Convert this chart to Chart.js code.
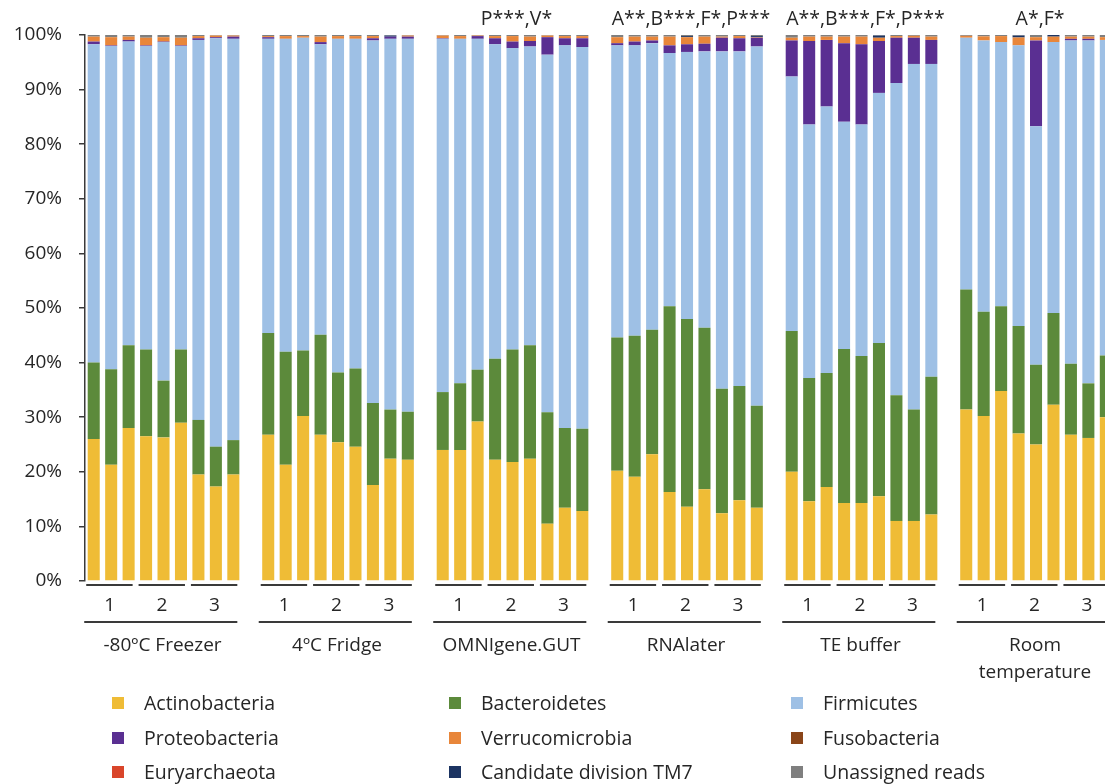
<!DOCTYPE html>
<html>
<head>
<meta charset="utf-8">
<script src="https://cdn.jsdelivr.net/npm/chart.js@4.4.0/dist/chart.umd.min.js"></script>
<style>
html,body{margin:0;padding:0;background:#fff;overflow:hidden;width:1105px;height:784px;}
#wrap{position:relative;width:1105px;height:784px;overflow:hidden;}
#c{position:absolute;left:0;top:0;}
.leg{position:absolute;font-family:"Open Sans",sans-serif;font-size:19.5px;color:#262626;line-height:26px;white-space:nowrap;}
.sw{position:absolute;width:12px;height:12px;}
</style>
</head>
<body>
<div id="wrap">
<canvas id="c" width="1140" height="784"></canvas>
<div id="legend"></div>
</div>
<script>
// ---- categories ----
const groupNames = ["-80ºC Freezer", "4ºC Fridge", "OMNIgene.GUT", "RNAlater", "TE buffer", "Room\ntemperature"];
const subjects = ["1", "2", "3"];
const significance = ["", "", "P***,V*", "A**,B***,F*,P***", "A**,B***,F*,P***", "A*,F*"];
const yTicks = [0, 10, 20, 30, 40, 50, 60, 70, 80, 90, 100];

// ---- series values (% of reads), 9 bars per group: subject 1,2,3 x 3 replicates ----
const actinobacteria = [
  26.0,21.3,28.0, 26.5,26.3,29.0, 19.5,17.3,19.5,
  26.8,21.3,30.2, 26.8,25.4,24.6, 17.6,22.4,22.2,
  24.0,24.0,29.2, 22.2,21.8,22.4, 10.5,13.4,12.8,
  20.2,19.1,23.2, 16.3,13.6,16.8, 12.4,14.8,13.4,
  20.0,14.6,17.2, 14.3,14.3,15.5, 11.0,11.0,12.2,
  31.4,30.2,34.8, 27.0,25.0,32.3, 26.8,26.2,30.0];
const bacteroidetes = [
  14.0,17.5,15.2, 15.9,10.4,13.4, 10.0,7.3,6.3,
  18.6,20.7,12.0, 18.3,12.8,14.3, 15.0,9.0,8.8,
  10.6,12.2,9.5, 18.5,20.6,20.8, 20.4,14.6,15.1,
  24.4,25.8,22.8, 34.0,34.4,29.6, 22.8,20.9,18.7,
  25.8,22.6,20.9, 28.2,26.9,28.1, 23.0,20.4,25.2,
  22.0,19.1,15.5, 19.7,14.6,16.8, 13.0,10.0,11.3];
const firmicutes = [
  58.3,59.2,55.6, 55.6,62.0,55.6, 69.6,74.8,73.5,
  53.9,57.3,57.3, 53.2,61.1,60.4, 66.4,67.9,68.3,
  64.7,63.1,60.6, 57.6,55.2,54.7, 65.5,70.1,69.9,
  53.5,53.2,52.5, 46.4,48.9,50.6, 61.8,61.3,65.8,
  46.6,46.4,48.8, 41.6,42.4,45.8, 57.2,63.3,57.3,
  46.1,49.7,48.4, 51.4,43.7,49.6, 59.2,62.8,57.8];
const proteobacteria = [
  0.5,0.1,0.3, 0.1,0.1,0.1, 0.3,0.2,0.4,
  0.3,0.0,0.0, 0.4,0.0,0.0, 0.4,0.4,0.4,
  0.1,0.0,0.5, 1.1,1.2,1.0, 3.2,1.3,1.6,
  0.4,0.7,0.5, 1.4,1.4,1.4, 2.5,2.4,1.6,
  6.6,15.3,12.2, 14.4,14.7,9.5, 8.3,4.8,4.4,
  0.0,0.0,0.0, 0.0,15.7,0.0, 0.3,0.3,0.0];
const verrucomicrobia = [
  0.9,1.5,0.6, 1.4,0.8,1.4, 0.4,0.3,0.2,
  0.2,0.5,0.3, 1.0,0.5,0.5, 0.4,0.0,0.2,
  0.5,0.5,0.1, 0.4,1.0,0.8, 0.3,0.4,0.4,
  1.1,0.9,0.7, 1.6,1.3,1.3, 0.2,0.4,0.1,
  0.5,0.8,0.6, 1.2,1.4,0.6, 0.3,0.35,0.6,
  0.35,0.75,1.1, 1.45,0.6,1.0, 0.4,0.4,0.5];
const fusobacteria = [
  0,0,0, 0,0,0, 0,0,0,
  0,0,0, 0,0,0, 0,0,0,
  0,0,0, 0,0,0, 0,0,0,
  0,0,0, 0,0,0, 0,0,0,
  0,0,0, 0,0,0, 0,0,0,
  0,0,0, 0,0,0, 0,0,0];
const euryarchaeota = [
  0,0,0, 0,0,0, 0,0,0,
  0,0,0, 0,0,0, 0,0,0,
  0,0,0, 0,0,0, 0,0,0,
  0,0,0, 0,0,0, 0,0,0,
  0,0,0, 0,0,0, 0,0,0,
  0,0,0, 0,0,0, 0,0,0];
const tm7 = [
  0,0,0, 0,0,0, 0,0,0,
  0,0,0, 0,0,0, 0,0.2,0,
  0,0,0, 0,0,0, 0,0,0,
  0,0,0, 0,0.2,0, 0,0,0.2,
  0,0,0, 0,0,0.4, 0,0,0,
  0,0,0, 0.35,0,0.3, 0,0,0];
const unassigned = [
  0.3,0.4,0.3, 0.5,0.4,0.5, 0.2,0.1,0.1,
  0.2,0.2,0.2, 0.3,0.2,0.2, 0.2,0.1,0.1,
  0.2,0.2,0.1, 0.2,0.2,0.3, 0.1,0.2,0.2,
  0.4,0.3,0.3, 0.3,0.2,0.3, 0.3,0.2,0.2,
  0.5,0.3,0.3, 0.3,0.3,0.1, 0.2,0.15,0.3,
  0.15,0.25,0.2, 0.1,0.4,0.0, 0.3,0.3,0.4];

const seriesNames = ["Actinobacteria","Bacteroidetes","Firmicutes","Proteobacteria","Verrucomicrobia","Fusobacteria","Euryarchaeota","Candidate division TM7","Unassigned reads"];
const seriesData = [actinobacteria,bacteroidetes,firmicutes,proteobacteria,verrucomicrobia,fusobacteria,euryarchaeota,tm7,unassigned];
const seriesColors = ["#EFBC36","#5C8A3B","#9EC0E5","#5A2F92","#E8863A","#8A4519","#D9452A","#1C3462","#7F7F7F"];

// ---- build slots: 9 bars + 1 empty gap slot per group ----
const PER = 9, SLOT = 10;
const labels = [];
groupNames.forEach((g, gi) => { for (let k = 0; k < SLOT; k++) labels.push(gi + "-" + k); });
function expand(arr) {
  const out = [];
  for (let g = 0; g < groupNames.length; g++) {
    for (let k = 0; k < PER; k++) out.push(arr[g * PER + k]);
    out.push(null);
  }
  return out;
}

const groupPlugin = {
  id: 'groupAxis',
  afterDraw(chart) {
    const ctx = chart.ctx, xs = chart.scales.x;
    ctx.save();
    ctx.strokeStyle = '#3a3a3a';
    ctx.lineWidth = 2;
    ctx.fillStyle = '#262626';
    ctx.textAlign = 'center';
    ctx.textBaseline = 'middle';
    const hline = (a, b, y) => { ctx.beginPath(); ctx.moveTo(a, y); ctx.lineTo(b, y); ctx.stroke(); };
    groupNames.forEach((name, g) => {
      const base = g * SLOT;
      ctx.font = '19px "Open Sans"';
      subjects.forEach((s, k) => {
        const a = xs.getPixelForValue(base + k * 3);
        const m = xs.getPixelForValue(base + k * 3 + 1);
        const b = xs.getPixelForValue(base + k * 3 + 2);
        hline(a - 7.5, b + 4, 585);
        ctx.fillText(s, m - 1.5, 606);
      });
      const first = xs.getPixelForValue(base), last = xs.getPixelForValue(base + PER - 1);
      const mid = xs.getPixelForValue(base + 4);
      hline(first - 9.5, last + 4, 622);
      const lines = name.split('\n');
      lines.forEach((ln, i) => ctx.fillText(ln, mid - 1, 646 + i * 27));
      if (significance[g]) {
        ctx.font = '19.5px "Open Sans"';
        ctx.fillText(significance[g], mid + 4, 19);
      }
    });
    ctx.restore();
  }
};

new Chart(document.getElementById('c'), {
  type: 'bar',
  data: {
    labels: labels,
    datasets: seriesNames.map((n, i) => ({
      label: n,
      data: expand(seriesData[i]),
      backgroundColor: seriesColors[i],
      borderWidth: 0,
      barPercentage: 0.69,
      categoryPercentage: 1.0
    }))
  },
  options: {
    responsive: false,
    animation: false,
    devicePixelRatio: 1,
    layout: { padding: { left: 0, right: 8, top: 35, bottom: 203 } },
    plugins: { legend: { display: false }, tooltip: { enabled: false } },
    scales: {
      x: { stacked: true, display: false },
      y: {
        stacked: true, min: 0, max: 100,
        afterBuildTicks(s) { s.ticks = yTicks.map(v => ({ value: v })); },
        ticks: { callback: v => v + '%', color: '#262626', font: { family: 'Open Sans', size: 19 }, padding: 17 },
        grid: { drawOnChartArea: false, tickLength: 6, color: '#3a3a3a', lineWidth: 1.5 },
        border: { display: true, color: '#3a3a3a', width: 1.5 },
        afterFit(s) { s.width = 85; }
      }
    }
  },
  plugins: [groupPlugin]
});

// ---- legend (3 columns x 3 rows) ----
const legendCols = [112, 449, 791];
const legendRows = [704, 739, 773];
const leg = document.getElementById('legend');
seriesNames.forEach((n, i) => {
  const col = i % 3, row = Math.floor(i / 3);
  const sw = document.createElement('div');
  sw.className = 'sw';
  sw.style.left = legendCols[col] + 'px';
  sw.style.top = (legendRows[row] - 7) + 'px';
  sw.style.background = seriesColors[i];
  leg.appendChild(sw);
  const t = document.createElement('div');
  t.className = 'leg';
  t.style.left = (legendCols[col] + 32) + 'px';
  t.style.top = (legendRows[row] - 14) + 'px';
  t.textContent = n;
  leg.appendChild(t);
});
</script>
</body>
</html>
